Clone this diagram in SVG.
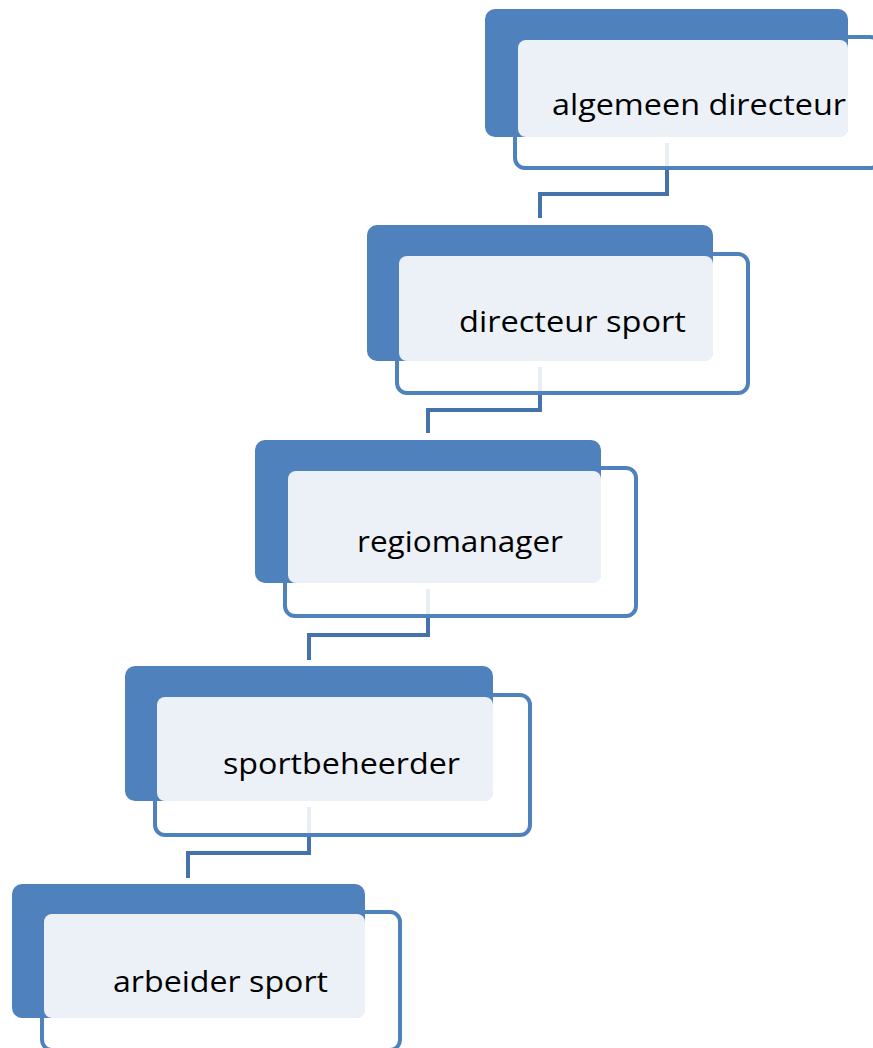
<svg xmlns="http://www.w3.org/2000/svg" width="873" height="1048" viewBox="0 0 873 1048">
<style>
.outline{fill:#FFFFFF;fill-opacity:0.88;stroke:#4F81BD;stroke-width:4}
.dark{fill:#4F81BD}
.light{fill:#ECF1F8}
.conn{fill:none;stroke:#4672AB;stroke-width:4}
.lbl{font-family:"Open Sans","Noto Sans","Liberation Sans",sans-serif;font-size:30px;fill:#000000;text-anchor:middle}
</style>
<rect width="873" height="1048" fill="#FFFFFF"/>
<g id="connectors">
<path class="conn" d="M667,143 V194 H540 V218"/>
<path class="conn" d="M540,367 V410 H428 V433"/>
<path class="conn" d="M428,589 V635 H309 V660"/>
<path class="conn" d="M309,807 V853 H188 V878"/>
</g>
<g id="node1">
<rect class="outline" x="515" y="37" width="365" height="131" rx="10"/>
<rect class="dark" x="485" y="9" width="363" height="128" rx="10"/>
<rect class="light" x="518" y="40" width="330" height="97" rx="8"/>
<text class="lbl" x="699" y="115" textLength="294" lengthAdjust="spacingAndGlyphs">algemeen directeur</text>
</g>
<g id="node2">
<rect class="outline" x="397" y="254" width="351" height="139" rx="10"/>
<rect class="dark" x="367" y="225" width="346" height="136" rx="10"/>
<rect class="light" x="399" y="256" width="314" height="105" rx="8"/>
<text class="lbl" x="572.5" y="332" textLength="227" lengthAdjust="spacingAndGlyphs">directeur sport</text>
</g>
<g id="node3">
<rect class="outline" x="285" y="468" width="351" height="148" rx="10"/>
<rect class="dark" x="255" y="440" width="346" height="143" rx="10"/>
<rect class="light" x="288" y="471" width="313" height="112" rx="8"/>
<text class="lbl" x="460" y="552" textLength="206" lengthAdjust="spacingAndGlyphs">regiomanager</text>
</g>
<g id="node4">
<rect class="outline" x="155" y="695" width="375" height="140" rx="10"/>
<rect class="dark" x="125" y="666" width="368" height="135" rx="10"/>
<rect class="light" x="157" y="697" width="336" height="104" rx="8"/>
<text class="lbl" x="341.5" y="774" textLength="237" lengthAdjust="spacingAndGlyphs">sportbeheerder</text>
</g>
<g id="node5">
<rect class="outline" x="42" y="912" width="358" height="138" rx="10"/>
<rect class="dark" x="12" y="884" width="353" height="134" rx="10"/>
<rect class="light" x="44" y="914" width="321" height="104" rx="8"/>
<text class="lbl" x="220.5" y="992" textLength="215" lengthAdjust="spacingAndGlyphs">arbeider sport</text>
</g>
</svg>
